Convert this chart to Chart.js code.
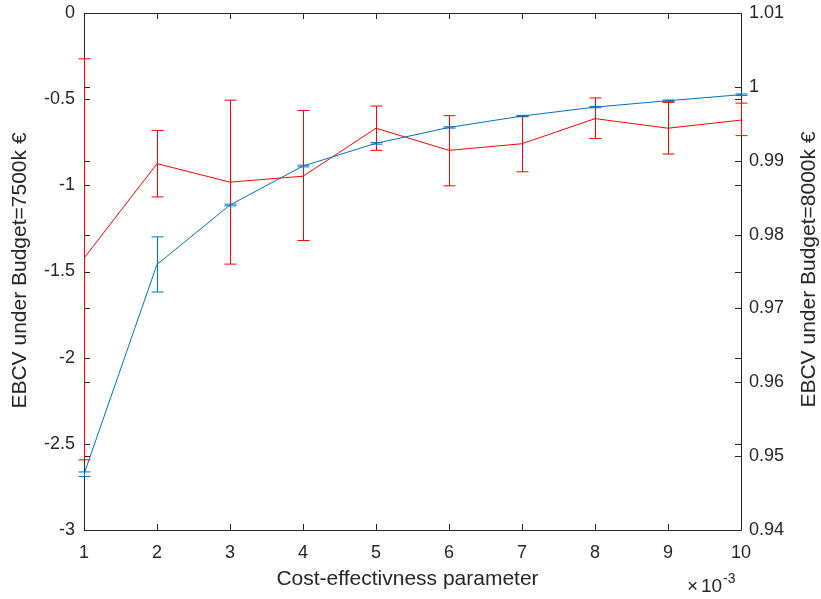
<!DOCTYPE html>
<html>
<head>
<meta charset="utf-8">
<script src="https://cdn.jsdelivr.net/npm/chart.js@4"></script>
<style>
  html, body { margin: 0; padding: 0; background: #fff; }
  #wrap { width: 821px; height: 599px; }
</style>
</head>
<body>
<div id="wrap"><canvas id="myChart" width="821" height="599"></canvas></div>
<script>
// dane
var costParam = [0.001, 0.002, 0.003, 0.004, 0.005, 0.006, 0.007, 0.008, 0.009, 0.010];

// lewa os (niebieska)
var blueMean = [-2.676, -1.459, -1.114, -0.888, -0.756, -0.664, -0.598, -0.546, -0.509, -0.474];
var blueErr = [0.013, 0.16, 0.005, 0.005, 0.005, 0.004, 0.004, 0.004, 0.004, 0.004];

// prawa os (czerwona)
var redMean = [0.9768, 0.9896, 0.9871, 0.9879, 0.9944, 0.9914, 0.9923, 0.9957, 0.9944, 0.9955];
var redUpper = [1.0038, 0.9941, 0.9982, 0.9968, 0.9974, 0.9961, 0.9960, 0.9985, 0.9979, 0.9978];
var redLower = [0.9495, 0.9851, 0.9760, 0.9792, 0.9914, 0.9866, 0.9885, 0.9930, 0.9909, 0.9934];

var xTicks = [1, 2, 3, 4, 5, 6, 7, 8, 9, 10];
var leftTicks = [-3, -2.5, -2, -1.5, -1, -0.5, 0];
var rightTicks = [0.94, 0.95, 0.96, 0.97, 0.98, 0.99, 1, 1.01];

var leftTitle = "EBCV under Budget=7500k \u20AC";
var rightTitle = "EBCV under Budget=8000k \u20AC";
var xTitle = "Cost-effectivness parameter";

var BLUE = "#0072BD";
var RED = "#FF0000";
var AXIS = "#262626";
var FONT = "'Liberation Sans', Arial, sans-serif";

var bluePts = [];
var redPts = [];
for (var i = 0; i < costParam.length; i++) {
  bluePts.push({ x: costParam[i], y: blueMean[i] });
  redPts.push({ x: costParam[i], y: redMean[i] });
}

function drawBar(ctx, xs, yLo, yHi, color, cap) {
  ctx.strokeStyle = color;
  ctx.lineWidth = 1;
  ctx.beginPath();
  ctx.moveTo(xs, yLo); ctx.lineTo(xs, yHi);
  ctx.moveTo(xs - cap, yLo); ctx.lineTo(xs + cap, yLo);
  ctx.moveTo(xs - cap, yHi); ctx.lineTo(xs + cap, yHi);
  ctx.stroke();
}

var axesPlugin = {
  id: "matlabAxes",
  afterDraw: function (chart) {
    var ctx = chart.ctx;
    var a = chart.chartArea;
    var xs = chart.scales.x, yl = chart.scales.yLeft, yr = chart.scales.yRight;
    ctx.save();
    ctx.strokeStyle = AXIS;
    ctx.lineWidth = 1;
    ctx.beginPath();
    ctx.rect(Math.round(a.left) + 0.5, Math.round(a.top) + 0.5, Math.round(a.right - a.left), Math.round(a.bottom - a.top));
    ctx.stroke();

    var tl = 6;
    ctx.beginPath();
    xTicks.forEach(function (t) {
      var px = Math.round(xs.getPixelForValue(t / 1000)) + 0.5;
      ctx.moveTo(px, a.bottom); ctx.lineTo(px, a.bottom - tl);
      ctx.moveTo(px, a.top); ctx.lineTo(px, a.top + tl);
    });
    leftTicks.forEach(function (t) {
      var py = Math.round(yl.getPixelForValue(t)) + 0.5;
      ctx.moveTo(a.left, py); ctx.lineTo(a.left + tl, py);
      ctx.moveTo(a.right, py); ctx.lineTo(a.right - tl, py);
    });
    rightTicks.forEach(function (t) {
      var py = Math.round(yr.getPixelForValue(t)) + 0.5;
      ctx.moveTo(a.left, py); ctx.lineTo(a.left + tl, py);
      ctx.moveTo(a.right, py); ctx.lineTo(a.right - tl, py);
    });
    ctx.stroke();

    // etykiety
    ctx.fillStyle = AXIS;
    ctx.font = "18px " + FONT;
    ctx.textAlign = "center";
    ctx.textBaseline = "middle";
    xTicks.forEach(function (t) {
      ctx.fillText(String(t), xs.getPixelForValue(t / 1000), a.bottom + 23);
    });
    ctx.textAlign = "right";
    leftTicks.forEach(function (t) {
      ctx.fillText(String(t), a.left - 9, yl.getPixelForValue(t));
    });
    ctx.textAlign = "left";
    rightTicks.forEach(function (t) {
      ctx.fillText(String(t), a.right + 8, yr.getPixelForValue(t));
    });

    // tytuly osi
    ctx.font = "21px " + FONT;
    ctx.textAlign = "center";
    ctx.textBaseline = "middle";
    ctx.fillText(xTitle, (a.left + a.right) / 2 - 5, a.bottom + 49);

    ctx.save();
    ctx.translate(20, (a.top + a.bottom) / 2 - 1);
    ctx.rotate(-Math.PI / 2);
    ctx.fillText(leftTitle, 0, 0);
    ctx.restore();

    ctx.save();
    ctx.translate(809, (a.top + a.bottom) / 2 - 2);
    ctx.rotate(-Math.PI / 2);
    ctx.fillText(rightTitle, 0, 0);
    ctx.restore();

    // mnoznik x10^-3
    ctx.font = "19px " + FONT;
    ctx.textAlign = "left";
    ctx.textBaseline = "alphabetic";
    var bx = 687, by = 592;
    ctx.fillText("\u00D7", bx, by);
    ctx.fillText("10", bx + 14, by);
    ctx.font = "14px " + FONT;
    ctx.fillText("-3", bx + 36, by - 9);
    ctx.restore();
  }
};

var errorBarsPlugin = {
  id: "errorBars",
  afterDraw: function (chart) {
    var ctx = chart.ctx;
    var xs = chart.scales.x, yl = chart.scales.yLeft, yr = chart.scales.yRight;
    ctx.save();
    for (var i = 0; i < costParam.length; i++) {
      var px = Math.round(xs.getPixelForValue(costParam[i])) + 0.5;
      drawBar(ctx, px, yr.getPixelForValue(redLower[i]), yr.getPixelForValue(redUpper[i]), RED, 6);
      drawBar(ctx, px, yl.getPixelForValue(blueMean[i] - blueErr[i]), yl.getPixelForValue(blueMean[i] + blueErr[i]), BLUE, 6);
    }
    ctx.restore();
  }
};

const data = {
  datasets: [
    {
      label: "left",
      data: bluePts,
      borderColor: BLUE,
      backgroundColor: BLUE,
      borderWidth: 1,
      pointRadius: 0,
      yAxisID: "yLeft",
    },
    {
      label: "right",
      data: redPts,
      borderColor: RED,
      backgroundColor: RED,
      borderWidth: 1,
      pointRadius: 0,
      yAxisID: "yRight",
    },
  ],
};

const config = {
  type: "line",
  data: data,
  options: {
    responsive: false,
    animation: false,
    events: [],
    layout: { padding: { top: 13, bottom: 0, left: 0, right: 0 } },
    plugins: { legend: { display: false }, tooltip: { enabled: false } },
    scales: {
      x: {
        type: "linear",
        min: 0.001,
        max: 0.01,
        grid: { display: false, drawTicks: false },
        border: { display: false },
        ticks: { display: false },
        afterFit: function (s) { s.height = 69; },
      },
      yLeft: {
        type: "linear",
        position: "left",
        min: -3,
        max: 0,
        grid: { display: false, drawTicks: false },
        border: { display: false },
        ticks: { display: false },
        afterFit: function (s) { s.width = 84; },
      },
      yRight: {
        type: "linear",
        position: "right",
        min: 0.94,
        max: 1.01,
        grid: { display: false, drawTicks: false },
        border: { display: false },
        ticks: { display: false },
        afterFit: function (s) { s.width = 80; },
      },
    },
  },
  plugins: [axesPlugin, errorBarsPlugin],
};

new Chart(document.getElementById("myChart"), config);
</script>
</body>
</html>
